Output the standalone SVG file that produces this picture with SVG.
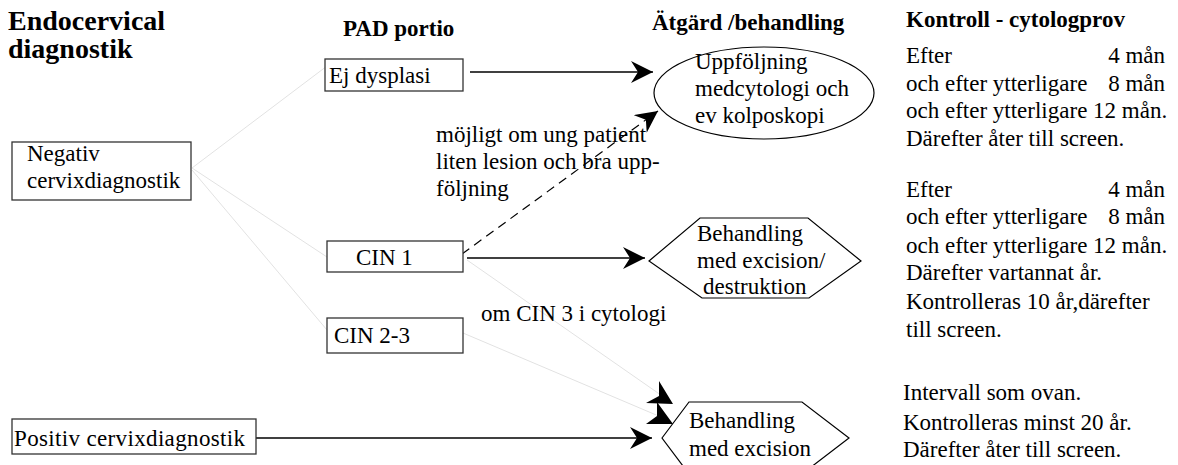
<svg xmlns="http://www.w3.org/2000/svg" width="1178" height="465" viewBox="0 0 1178 465">
<style>
text{font-family:"Liberation Serif","Times New Roman",serif;font-size:23px;fill:#000}
.b{font-weight:bold}
.t{font-size:28px;font-weight:bold}
.box{fill:#fff;stroke:#333;stroke-width:1.3}
.shape{fill:#fff;stroke:#000;stroke-width:1.2}
.ln{stroke:#000;stroke-width:1.5;fill:none}
.fa{stroke:#e2e2e2;stroke-width:1;fill:none}
.dash{stroke:#000;stroke-width:1.2;fill:none;stroke-dasharray:9,6}
.ah{fill:#000}
</style>
<defs>
<marker id="arr" markerUnits="userSpaceOnUse" markerWidth="24" markerHeight="22" refX="22" refY="11" orient="auto" viewBox="0 0 24 22">
<path d="M0,0 L22,11 L0,22 L7,11 z" fill="#000"/>
</marker>
</defs>
<g id="headings">
<text class="t" x="8" y="30">Endocervical</text>
<text class="t" x="8" y="58">diagnostik</text>
<text class="b" x="343" y="36">PAD portio</text>
<text class="b" x="652" y="30">Ätgärd /behandling</text>
<text class="b" x="906" y="27">Kontroll - cytologprov</text>
</g>
<g id="connectors">
<line class="fa" x1="192" y1="168" x2="327" y2="66"/>
<line class="fa" x1="192" y1="168" x2="327" y2="257"/>
<line class="fa" x1="192" y1="170" x2="327" y2="330"/>
<line class="fa" x1="467" y1="260" x2="668" y2="400"/>
<line class="fa" x1="463" y1="333" x2="668" y2="420"/>
<polygon class="ah" points="659,381 673,404 646,403 659,396"/>
<polygon class="ah" points="657,402 673,424 646,424 657,416"/>
<line class="ln" x1="470" y1="72" x2="653" y2="72" marker-end="url(#arr)"/>
<line class="dash" x1="462" y1="254" x2="658" y2="111" marker-end="url(#arr)"/>
<line class="ln" x1="467" y1="258" x2="645" y2="258" marker-end="url(#arr)"/>
<line class="ln" x1="256" y1="438" x2="652" y2="438" marker-end="url(#arr)"/>
</g>
<g id="negativ">
<rect class="box" x="12" y="142" width="179" height="58"/>
<text x="27" y="161">Negativ</text>
<text x="27" y="188">cervixdiagnostik</text>
</g>
<g id="positiv">
<rect class="box" x="12" y="419" width="244" height="35"/>
<text x="14" y="446" textLength="231" lengthAdjust="spacing">Positiv cervixdiagnostik</text>
</g>
<g id="ejdysplasi">
<rect class="box" x="325" y="59" width="138" height="32"/>
<text x="329" y="83">Ej dysplasi</text>
</g>
<g id="cin1">
<rect class="box" x="327" y="241" width="136" height="31"/>
<text x="356" y="265">CIN 1</text>
</g>
<g id="cin23">
<rect class="box" x="327" y="318" width="136" height="35"/>
<text x="334" y="343">CIN 2-3</text>
</g>
<g id="uppfoljning">
<ellipse class="shape" cx="764" cy="93" rx="110" ry="46"/>
<text x="695" y="69">Uppföljning</text>
<text x="695" y="96">medcytologi och</text>
<text x="695" y="123">ev kolposkopi</text>
</g>
<g id="behandling1">
<polygon class="shape" points="649,261 700,218 808,218 861,261 809,298 702,298"/>
<text x="697" y="241">Behandling</text>
<text x="697" y="268">med excision/</text>
<text x="703" y="294">destruktion</text>
</g>
<g id="behandling2">
<polygon class="shape" points="662,438 689,402 802,402 849,438 802,474 689,474"/>
<text x="689" y="428">Behandling</text>
<text x="689" y="456">med excision</text>
</g>
<g id="labels">
<text x="436" y="142">möjligt om ung patient</text>
<text x="436" y="169">liten lesion och bra upp-</text>
<text x="436" y="196">följning</text>
<text x="481" y="321">om CIN 3 i cytologi</text>
</g>
<g id="kontroll">
<text x="906" y="63">Efter</text>
<text x="1165" y="63" text-anchor="end">4 mån</text>
<text x="906" y="91">och efter ytterligare</text>
<text x="1165" y="91" text-anchor="end">8 mån</text>
<text x="906" y="118">och efter ytterligare 12 mån.</text>
<text x="906" y="146">Därefter åter till screen.</text>
<text x="906" y="197">Efter</text>
<text x="1165" y="197" text-anchor="end">4 mån</text>
<text x="906" y="224">och efter ytterligare</text>
<text x="1165" y="224" text-anchor="end">8 mån</text>
<text x="906" y="253">och efter ytterligare 12 mån.</text>
<text x="906" y="280">Därefter vartannat år.</text>
<text x="906" y="309">Kontrolleras 10 år,därefter</text>
<text x="906" y="337">till screen.</text>
<text x="903" y="400">Intervall som ovan.</text>
<text x="903" y="430">Kontrolleras minst 20 år.</text>
<text x="903" y="457">Därefter åter till screen.</text>
</g>
</svg>
